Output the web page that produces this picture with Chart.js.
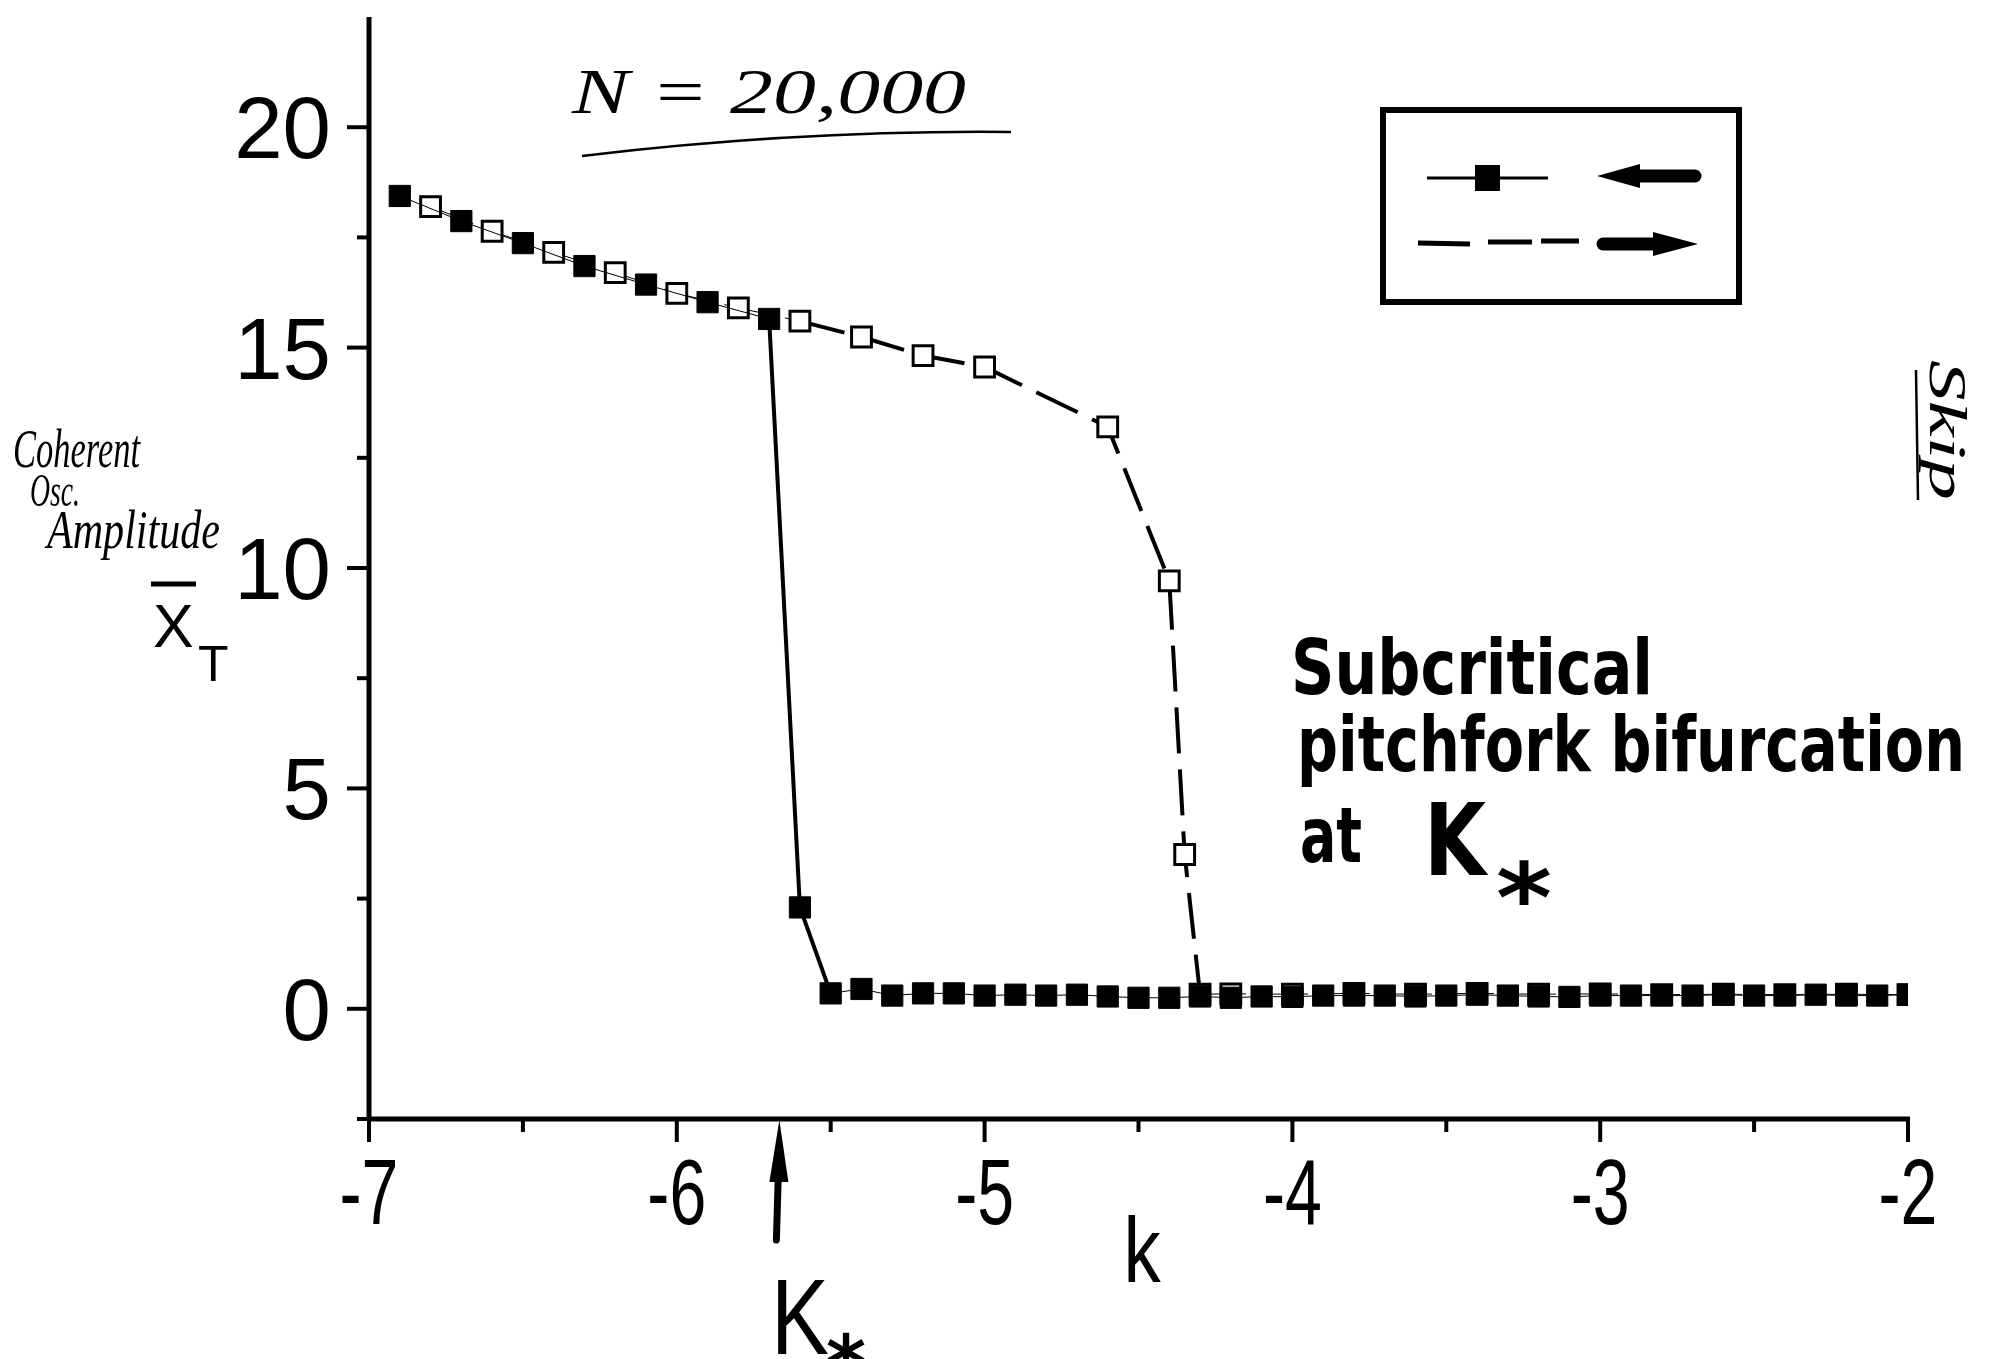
<!DOCTYPE html>
<html>
<head>
<meta charset="utf-8">
<script src="https://cdn.jsdelivr.net/npm/chart.js@4.4.0/dist/chart.umd.min.js"></script>
<style>
  html, body { margin: 0; padding: 0; background: #fff; }
  #wrap { width: 1994px; height: 1359px; position: relative; }
</style>
</head>
<body>
<div id="wrap"><canvas id="myChart"></canvas></div>
<script>
// k sweep going down (filled squares, solid line)
var kDown = [-6.9, -6.7, -6.5, -6.3, -6.1, -5.9, -5.7, -5.6,
  -5.5, -5.4, -5.3, -5.2, -5.1, -5.0, -4.9, -4.8, -4.7, -4.6, -4.5, -4.4,
  -4.3, -4.2, -4.1, -4.0, -3.9, -3.8, -3.7, -3.6, -3.5, -3.4, -3.3, -3.2,
  -3.1, -3.0, -2.9, -2.8, -2.7, -2.6, -2.5, -2.4, -2.3, -2.2, -2.1, -2.0]
var xDown = [18.44, 17.87, 17.37, 16.85, 16.43, 16.03, 15.65, 2.3,
  0.35, 0.45, 0.3, 0.35, 0.35, 0.3, 0.32, 0.3, 0.32, 0.28, 0.25, 0.25,
  0.28, 0.25, 0.28, 0.27, 0.3, 0.3, 0.3, 0.28, 0.3, 0.32, 0.3, 0.28,
  0.27, 0.3, 0.3, 0.3, 0.3, 0.32, 0.3, 0.3, 0.32, 0.3, 0.3, 0.32]

// k sweep going up (open squares, dashed line)
var kUp = [-6.8, -6.6, -6.4, -6.2, -6.0, -5.8, -5.6, -5.4, -5.2, -5.0,
  -4.6, -4.4, -4.35, -4.3, -4.2, -4.0, -3.8, -3.6, -3.4, -3.2, -3.0,
  -2.8, -2.6, -2.4, -2.2, -2.0]
var xUp = [18.2, 17.64, 17.16, 16.7, 16.23, 15.9, 15.6, 15.24, 14.82, 14.56,
  13.2, 9.71, 3.5, 0.33, 0.34, 0.33, 0.35, 0.33, 0.35, 0.33, 0.34,
  0.32, 0.33, 0.32, 0.33, 0.32]

var xTickLabels = [-7, -6, -5, -4, -3, -2]
var yTickLabels = [0, 5, 10, 15, 20]
var kStar = -5.67

function line(ctx, x1, y1, x2, y2) {
  ctx.beginPath()
  ctx.moveTo(x1, y1)
  ctx.lineTo(x2, y2)
  ctx.stroke()
}

// draw text squeezed/stretched to a given width
function fitText(ctx, s, x, y, font, w) {
  ctx.save()
  ctx.font = font
  var m = ctx.measureText(s).width
  ctx.translate(x, y)
  ctx.scale(w / m, 1)
  ctx.textAlign = 'left'
  ctx.textBaseline = 'alphabetic'
  ctx.fillText(s, 0, 0)
  ctx.restore()
}

var paper = {
  id: 'paper',
  afterDraw: function (chart) {
    var ctx = chart.ctx
    var a = chart.chartArea
    var xs = chart.scales.x
    var ys = chart.scales.y
    ctx.save()
    ctx.strokeStyle = '#000'
    ctx.fillStyle = '#000'

    // axes
    ctx.lineWidth = 5
    line(ctx, a.left, a.top, a.left, a.bottom + 2)
    line(ctx, a.left - 2, a.bottom, a.right + 2, a.bottom)

    // tick marks
    ctx.lineWidth = 4
    xs.ticks.forEach(function (t) {
      var px = xs.getPixelForValue(t.value)
      var len = Number.isInteger(t.value) ? 23 : 13
      line(ctx, px, a.bottom, px, a.bottom + len)
    })
    ys.ticks.forEach(function (t) {
      var py = ys.getPixelForValue(t.value)
      if (t.value > 21) return
      var len = (t.value % 5 === 0) ? 22 : 12
      line(ctx, a.left, py, a.left - len, py)
    })

    // tick labels
    ctx.font = '87px "Liberation Sans", Arial, sans-serif'
    ctx.textAlign = 'right'
    ctx.textBaseline = 'alphabetic'
    yTickLabels.forEach(function (v) {
      ctx.fillText(String(v), 331, ys.getPixelForValue(v) + 31)
    })
    xTickLabels.forEach(function (v) {
      var px = xs.getPixelForValue(v)
      ctx.save()
      ctx.font = '92px "Liberation Sans", Arial, sans-serif'
      ctx.textAlign = 'center'
      ctx.translate(px, 1224)
      ctx.scale(0.72, 1)
      ctx.fillText(String(v), 0, 0)
      ctx.restore()
    })

    // axis titles
    ctx.save()
    ctx.font = '93px "Liberation Sans", Arial, sans-serif'
    ctx.textAlign = 'center'
    ctx.translate(1142, 1282)
    ctx.scale(0.8, 1)
    ctx.fillText('k', 0, 0)
    ctx.restore()

    ctx.textAlign = 'left'
    ctx.font = '61px "Liberation Sans", Arial, sans-serif'
    ctx.fillText('X', 153, 647)
    ctx.font = '50px "Liberation Sans", Arial, sans-serif'
    ctx.fillText('T', 198, 681)
    ctx.lineWidth = 5
    line(ctx, 151, 584, 196, 584)

    // legend box
    ctx.lineWidth = 6
    ctx.strokeRect(1383, 110, 356, 192)
    ctx.lineWidth = 3
    line(ctx, 1427, 178, 1548, 178)
    ctx.fillRect(1475, 165, 25, 26)
    ctx.lineWidth = 5
    line(ctx, 1418, 243, 1470, 244)
    line(ctx, 1488, 242, 1532, 242)
    line(ctx, 1541, 241, 1579, 241)
    // arrows
    ctx.lineWidth = 13
    ctx.lineCap = 'round'
    line(ctx, 1635, 176, 1695, 176)
    line(ctx, 1603, 244, 1660, 244)
    ctx.lineCap = 'butt'
    ctx.beginPath()
    ctx.moveTo(1597, 176); ctx.lineTo(1640, 164); ctx.lineTo(1640, 188); ctx.closePath()
    ctx.fill()
    ctx.beginPath()
    ctx.moveTo(1698, 244); ctx.lineTo(1653, 232); ctx.lineTo(1653, 256); ctx.closePath()
    ctx.fill()

    // K* arrow under the axis
    var ax = xs.getPixelForValue(kStar)
    ctx.lineWidth = 7
    ctx.lineCap = 'round'
    line(ctx, ax - 2, 1240, ax, 1172)
    ctx.lineCap = 'butt'
    ctx.beginPath()
    ctx.moveTo(ax + 1, 1120); ctx.lineTo(ax - 9, 1182); ctx.lineTo(ax + 10, 1182); ctx.closePath()
    ctx.fill()
    fitText(ctx, 'K', 771, 1354, '108px "Liberation Sans", Arial, sans-serif', 58)
    fitText(ctx, '*', 826, 1392, 'bold 80px "DejaVu Sans", sans-serif', 40)

    // handwritten notes
    var hand = 'italic 54px "Liberation Serif", serif'
    fitText(ctx, 'N = 20,000', 572, 113, 'italic 64px "Liberation Serif", serif', 394)
    ctx.lineWidth = 2.5
    ctx.beginPath()
    ctx.moveTo(582, 156)
    ctx.quadraticCurveTo(800, 130, 1011, 132)
    ctx.stroke()

    fitText(ctx, 'Coherent', 13, 467, hand, 127)
    fitText(ctx, 'Osc.', 30, 506, 'italic 46px "Liberation Serif", serif', 50)
    fitText(ctx, 'Amplitude', 47, 548, hand, 173)

    var marker = 'bold 76px "DejaVu Sans", sans-serif'
    fitText(ctx, 'Subcritical', 1291, 694, marker, 362)
    fitText(ctx, 'pitchfork bifurcation', 1297, 771, marker, 668)
    fitText(ctx, 'at', 1300, 862, marker, 62)
    fitText(ctx, 'K', 1424, 875, 'bold 100px "DejaVu Sans", sans-serif', 62)
    fitText(ctx, '*', 1496, 932, 'bold 96px "DejaVu Sans", sans-serif', 56)

    // "Skip" written sideways on the right margin
    ctx.save()
    ctx.translate(1922, 360)
    ctx.rotate(Math.PI / 2)
    fitText(ctx, 'Skip', 0, -8, 'italic 52px "Liberation Serif", serif', 140)
    ctx.lineWidth = 2.5
    line(ctx, 10, 6, 140, 4)
    ctx.restore()

    ctx.restore()
  }
}

new Chart('myChart', {
  type: 'line',
  data: {
    datasets: [{
      label: 'k decreasing',
      data: kDown.map(function (k, i) { return { x: k, y: xDown[i] } }),
      borderColor: '#000',
      backgroundColor: '#000',
      borderWidth: 4,
      tension: 0,
      pointStyle: 'rect',
      pointRadius: 15,
      pointBackgroundColor: '#000',
      pointBorderColor: '#000',
      pointBorderWidth: 1,
      segment: {
        borderWidth: function (c) { return Math.abs(c.p1.parsed.y - c.p0.parsed.y) > 1 ? 4 : 1 }
      },
      clip: { left: 30, top: 30, right: 0, bottom: 30 }
    }, {
      label: 'k increasing',
      data: kUp.map(function (k, i) { return { x: k, y: xUp[i] } }),
      borderColor: '#000',
      borderWidth: 4,
      borderDash: [46, 16],
      tension: 0,
      pointStyle: 'rect',
      pointRadius: 14,
      pointBackgroundColor: '#fff',
      pointBorderColor: '#000',
      pointBorderWidth: 3,
      segment: {
        borderWidth: function (c) { return (c.p0.parsed.x >= -5.65 && c.p0.parsed.y > 1) ? 4 : 1 }
      },
      clip: { left: 30, top: 30, right: 0, bottom: 30 }
    }]
  },
  options: {
    responsive: true,
    maintainAspectRatio: false,
    animation: false,
    layout: { padding: { left: 0, top: 14, right: 86, bottom: 0 } },
    plugins: {
      legend: { display: false },
      tooltip: { enabled: false }
    },
    scales: {
      x: {
        type: 'linear',
        min: -7,
        max: -2,
        ticks: { stepSize: 0.5, display: false },
        grid: { display: false },
        border: { display: false },
        afterFit: function (s) { s.height = 240 }
      },
      y: {
        min: -2.5,
        max: 22.5,
        ticks: { stepSize: 2.5, display: false },
        grid: { display: false },
        border: { display: false },
        afterFit: function (s) { s.width = 369 }
      }
    }
  },
  plugins: [paper]
})
</script>
</body>
</html>
